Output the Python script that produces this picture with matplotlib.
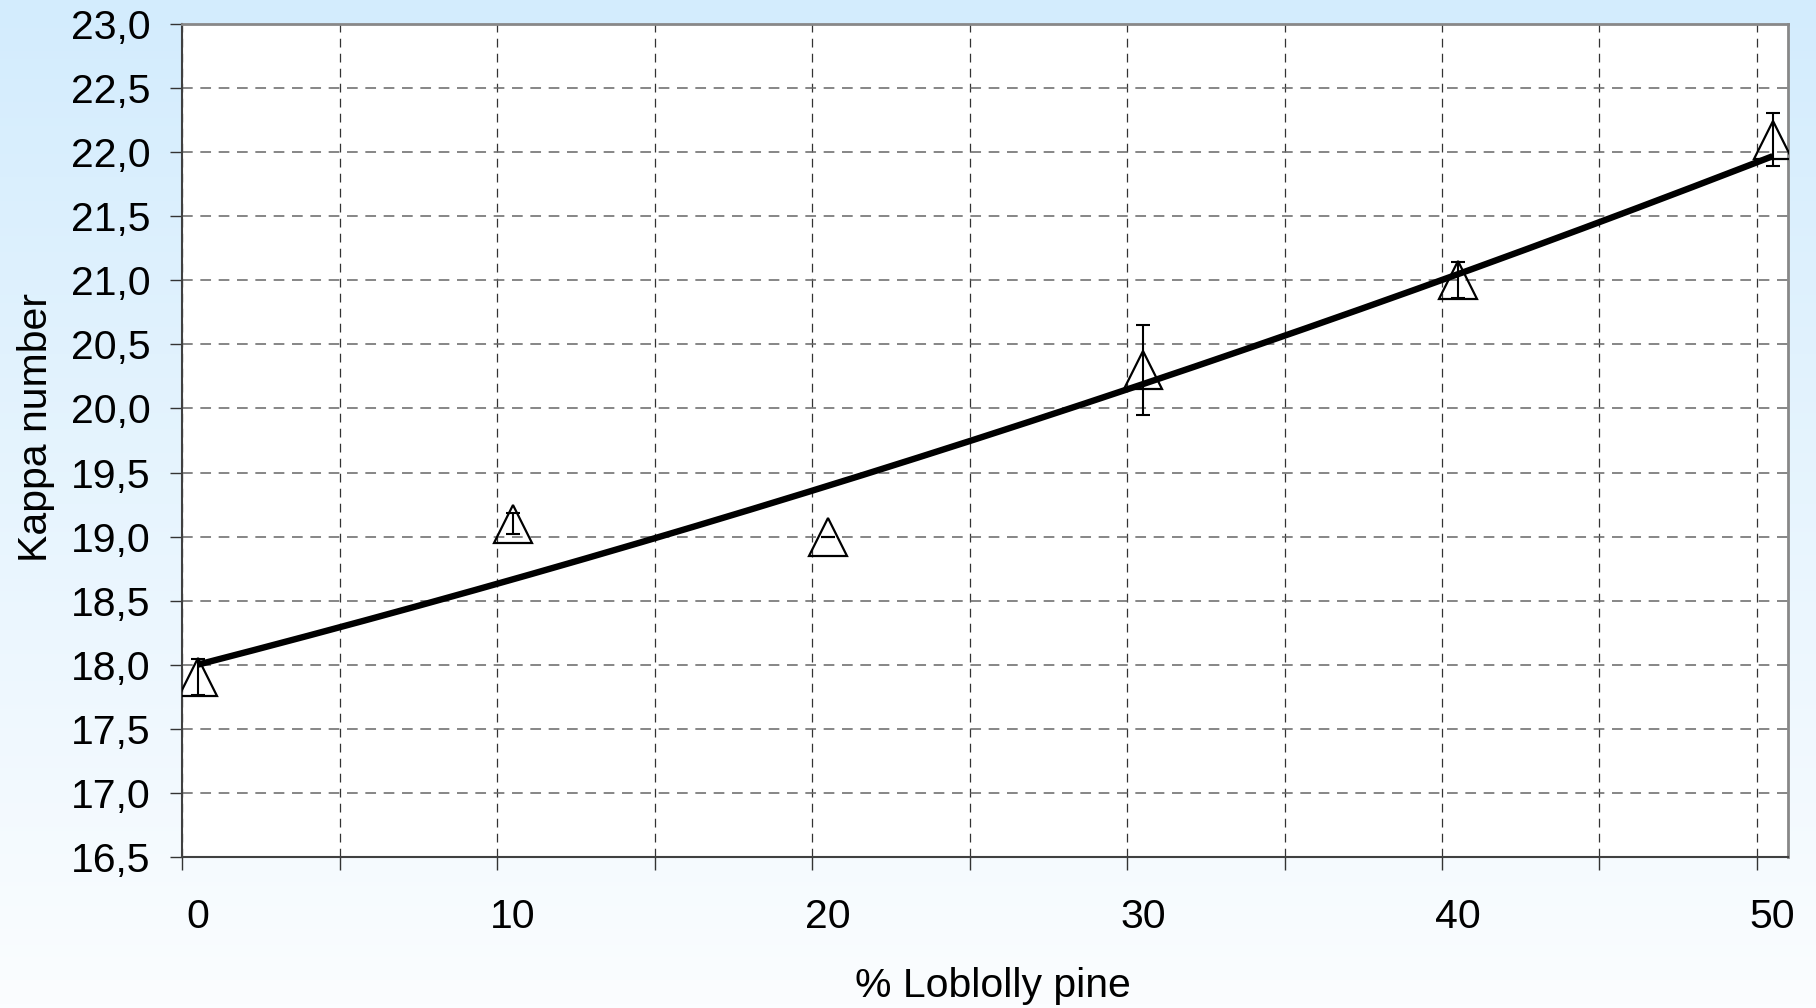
import numpy as np
import matplotlib
matplotlib.use("Agg")
import matplotlib.pyplot as plt

plt.rcParams['font.family'] = ['Liberation Sans', 'DejaVu Sans']

# podaci ocitani sa slike
pine_pct = [0, 10, 20, 30, 40, 50]
kappa = [17.9, 19.1, 19.0, 20.3, 21.0, 22.1]
kappa_err = [0.14, 0.08, 0.0, 0.35, 0.14, 0.21]

# polinomni trend (2. red), koeficijenti ocitani sa slike
trend_coef = [0.00032, 0.0634, 18.0]

y_ticks = [16.5, 17.0, 17.5, 18.0, 18.5, 19.0, 19.5, 20.0, 20.5, 21.0, 21.5, 22.0, 22.5, 23.0]
y_labels = ['16,5', '17,0', '17,5', '18,0', '18,5', '19,0', '19,5', '20,0',
            '20,5', '21,0', '21,5', '22,0', '22,5', '23,0']
x_ticks = [0, 10, 20, 30, 40, 50]
x_grid = [-0.5, 4.5, 9.5, 14.5, 19.5, 24.5, 29.5, 34.5, 39.5, 44.5, 49.5]

fs = 29.5

fig = plt.figure(figsize=(18.16, 10.08), dpi=100)

# pozadina s gradijentom
bg = fig.add_axes([0, 0, 1, 1], zorder=-10)
top = np.array([211, 236, 253]) / 255.0
bot = np.array([251, 253, 255]) / 255.0
t = np.linspace(0, 1, 256)[:, None]
grad = top[None, :] * (1 - t) + bot[None, :] * t
bg.imshow(grad[:, None, :], aspect='auto', extent=[0, 1, 0, 1])
bg.axis('off')

ax = fig.add_axes([0.1004, 0.1501, 0.8844, 0.8258])
ax.set_facecolor('white')

ax.plot(pine_pct, kappa, linestyle='none', marker='^', markersize=27,
        markerfacecolor='none', markeredgecolor='black', markeredgewidth=1.6, zorder=3)
ax.errorbar(pine_pct, kappa, yerr=kappa_err, fmt='none', ecolor='black',
            elinewidth=1.5, capsize=5, capthick=1.5, zorder=4)

xs = np.linspace(pine_pct[0], pine_pct[-1], 200)
ax.plot(xs, np.polyval(trend_coef, xs), color='black', linewidth=4.6,
        solid_capstyle='butt', zorder=5)

ax.set_xlim(-0.5, 50.5)
ax.set_ylim(16.5, 23.0)

ax.set_yticks(y_ticks)
ax.set_yticklabels(y_labels)
ax.set_xticks(x_ticks)
ax.set_xticks(x_grid, minor=True)

ax.tick_params(axis='y', which='major', direction='out', length=9, width=1,
               color='#333333', pad=14, labelsize=fs)
ax.tick_params(axis='x', which='major', length=0, pad=30, labelsize=fs)
ax.tick_params(axis='x', which='minor', direction='out', length=9, width=1,
               color='#333333')

ax.grid(True, axis='y', which='major', color='#666666', linewidth=1.1,
        linestyle=(0, (7, 5)))
ax.grid(True, axis='x', which='minor', color='#333333', linewidth=0.9,
        linestyle=(0, (7, 5)))
ax.set_axisbelow(True)

for side in ['left', 'bottom']:
    ax.spines[side].set_color('#404040')
    ax.spines[side].set_linewidth(1.5)
for side in ['top', 'right']:
    ax.spines[side].set_color('#888888')
    ax.spines[side].set_linewidth(2.0)

fig.text(993 / 1816, 1 - 996.7 / 1008, '% Loblolly pine', fontsize=fs,
         ha='center', va='baseline')
fig.text(47 / 1816, 1 - 428 / 1008, 'Kappa number', fontsize=fs, rotation=90,
         rotation_mode='anchor', ha='center', va='baseline')

fig.savefig('out.png', dpi=100)
